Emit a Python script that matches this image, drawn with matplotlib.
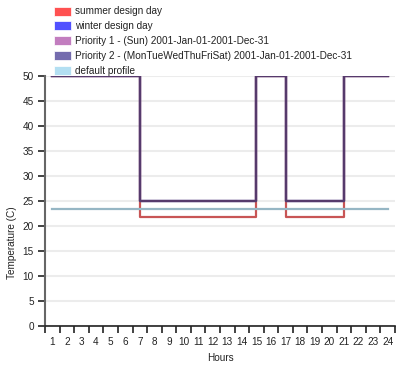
import matplotlib
matplotlib.use('Agg')
import matplotlib.pyplot as plt
from matplotlib.patches import Rectangle

plt.rcParams['font.family'] = ['Liberation Sans', 'DejaVu Sans']

# hourly schedule values (C)
hours = list(range(1, 25))
summer = [50] * 6 + [21.9] * 8 + [50] * 2 + [21.9] * 4 + [50] * 4
winter = [50] * 6 + [25] * 8 + [50] * 2 + [25] * 4 + [50] * 4
priority1 = [50] * 6 + [25] * 8 + [50] * 2 + [25] * 4 + [50] * 4
priority2 = [50] * 6 + [25] * 8 + [50] * 2 + [25] * 4 + [50] * 4
default = [23.5] * 24

labels = ['summer design day', 'winter design day',
          'Priority 1 - (Sun) 2001-Jan-01-2001-Dec-31',
          'Priority 2 - (MonTueWedThuFriSat) 2001-Jan-01-2001-Dec-31',
          'default profile']
swatch_colors = ['#ff3333', '#3333ff', '#b866b4', '#5c52a0', '#a6daf0']
line_colors = ['#c85555', '#4a4ab0', '#8a5a90', '#563a6c', '#96b6c4']

W, H = 396, 370
fig = plt.figure(figsize=(W / 100, H / 100), dpi=100)
ax = fig.add_axes([45 / W, 44 / H, 350 / W, 250 / H])

for v in range(0, 51, 5):
    ax.axhline(v, color='#ececec', lw=1.5, zorder=0)

series = [summer, winter, priority1, priority2, default]
for vals, c in zip(series, line_colors):
    ax.step(hours, vals, where='post', color=c, lw=1.6, zorder=2)

ax.set_xlim(0.5, 24.5)
ax.set_ylim(0, 50)
ax.set_xticks([h + 0.5 for h in range(0, 25)])
ax.set_xticklabels([])
ax.set_xticks(hours, minor=True)
ax.set_xticklabels([str(h) for h in hours], minor=True)
ax.tick_params(axis='x', which='major', length=5, width=1.2, color='#222222')
ax.tick_params(axis='x', which='minor', length=0, labelsize=7.2, pad=8,
               labelcolor='#222222')
ax.set_yticks(range(0, 51, 5))
ax.tick_params(axis='y', length=5, width=1.2, color='#222222', labelsize=7.2,
               labelcolor='#222222', pad=3)

for s in ['top', 'right']:
    ax.spines[s].set_visible(False)
ax.spines['left'].set_color('#666666')
ax.spines['left'].set_linewidth(1.5)
ax.spines['bottom'].set_color('#222222')
ax.spines['bottom'].set_linewidth(1.2)

fig.text(12 / W, 1 - 243 / H, 'Temperature (C)', rotation=90, ha='center',
         va='center', fontsize=7.2, color='#222222')
fig.text(220 / W, 1 - 358 / H, 'Hours', ha='center', va='center',
         fontsize=7.2, color='#222222')

# legend
for i, (lab, c) in enumerate(zip(labels, swatch_colors)):
    yc = 11 + i * 14.9
    fig.add_artist(Rectangle((54 / W, 1 - (yc + 4.5) / H), 17 / W, 9 / H,
                             transform=fig.transFigure, facecolor=c,
                             edgecolor='white', lw=0.6, alpha=0.85))
    fig.text(75 / W, 1 - yc / H, lab, ha='left', va='center', fontsize=7.2,
             color='#222222')

fig.savefig('out.png', dpi=100)
